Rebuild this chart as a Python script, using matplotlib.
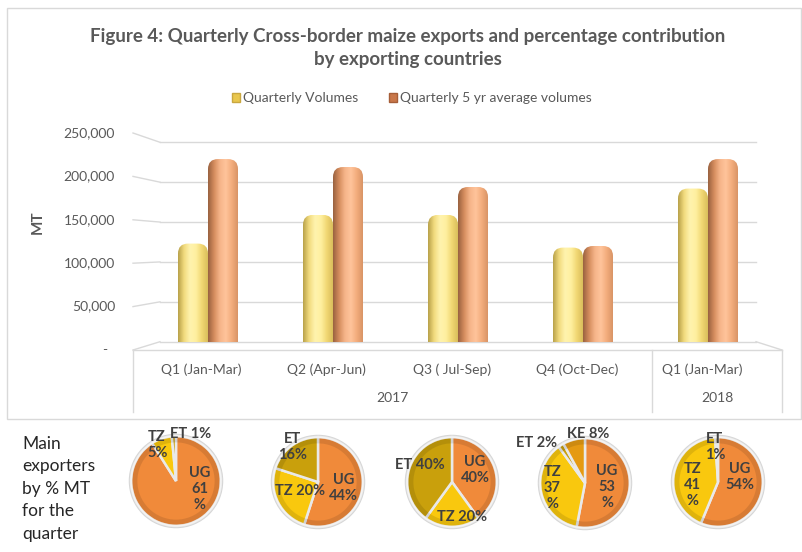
import matplotlib
matplotlib.use("Agg")
import matplotlib.pyplot as plt
import numpy as np
from matplotlib.colors import LinearSegmentedColormap
from matplotlib.patches import FancyBboxPatch, Patch, Rectangle, Circle

plt.rcParams['font.family'] = ['Lato', 'DejaVu Sans']

# data
quarters = ['Q1 (Jan-Mar)', 'Q2 (Apr-Jun)', 'Q3 ( Jul-Sep)', 'Q4 (Oct-Dec)', 'Q1 (Jan-Mar)']
years = ['2017', '2018']
year_span = [4, 1]
quarterly_volumes = [123000, 159000, 159000, 118000, 192000]
avg5yr_volumes = [229000, 219000, 194000, 120000, 229000]
yticks = [0, 50000, 100000, 150000, 200000, 250000]

pie_countries = [
    ['UG', 'TZ', 'ET'],
    ['UG', 'TZ', 'ET'],
    ['UG', 'TZ', 'ET'],
    ['UG', 'TZ', 'ET', 'KE'],
    ['UG', 'TZ', 'ET'],
]
pie_shares = [
    [61, 5, 1],
    [44, 20, 16],
    [40, 20, 40],
    [53, 37, 2, 8],
    [54, 41, 1],
]
pie_texts = [
    ['UG\n61\n%', 'TZ\n5%', 'ET 1%'],
    ['UG\n44%', 'TZ 20%', 'ET\n16%'],
    ['UG\n40%', 'TZ 20%', 'ET 40%'],
    ['UG\n53\n%', 'TZ\n37\n%', 'ET 2%', 'KE 8%'],
    ['UG\n54%', 'TZ\n41\n%', 'ET\n1%'],
]

# label offsets (units of pie radius)
pie_label_pos = [
    [(0.53, -0.18), (-0.42, 0.80), (0.32, 1.04)],
    [(0.56, -0.13), (-0.40, -0.20), (-0.56, 0.78)],
    [(0.51, 0.27), (0.22, -0.78), (-0.71, 0.38)],
    [(0.49, -0.09), (-0.73, -0.11), (-1.07, 0.89), (0.06, 1.09)],
    [(0.49, 0.11), (-0.56, -0.07), (-0.07, 0.78)],
]
pie_centers = [(176, 481), (318, 482), (452, 482), (585, 483), (718, 482)]
country_colors = {'UG': '#F08A3A', 'TZ': '#F9C80E', 'ET': '#C9A00C', 'KE': '#E59A12'}

W, H = 803, 552
fig = plt.figure(figsize=(W / 100, H / 100), dpi=100)
fig.patch.set_facecolor('white')

# chart border
fig.add_artist(Rectangle((7 / W, 1 - 419 / H), (801 - 7) / W, (419 - 8) / H,
                         transform=fig.transFigure, fill=False, ec='#D9D9D9', lw=1))

# main axes: x 133..782 px, y back wall 0 at 341.7 px, 250k at 142.3 px
x0, x1 = -0.6, 4.592
ax = fig.add_axes([133 / W, 1 - 341.7 / H, 649 / W, 199.4 / H])
ax.axis('off')

gc = '#D9D9D9'
wall_l, wall_r = -0.384, 4.384
for v in yticks:
    ax.plot([wall_l, wall_r], [v, v], color=gc, lw=1, clip_on=False, zorder=1)
    front = v * (217 / 199.4) - 10400
    ax.plot([x0, wall_l], [front, v], color=gc, lw=1, clip_on=False, zorder=1)
    lab = '{:,.0f}'.format(v) if v else '-  '
    ax.text(-0.0277, front, lab, transform=ax.get_yaxis_transform(), ha='right',
            va='center', fontsize=10, color='#595959')
ax.plot([wall_r, x1], [0, -10400], color=gc, lw=1, clip_on=False)

ax.text(38 / W, 1 - 222 / H, 'MT', transform=fig.transFigure, rotation=90,
        ha='center', va='center', fontsize=11, fontweight='bold', color='#595959')

# cylinder-like bars
bw = 0.24
x = np.arange(len(quarters))
cmap_y = LinearSegmentedColormap.from_list('y', ['#B9A24A', '#F2DB7E', '#FFF3AE', '#FFF0A0', '#F1D773', '#D9BE5C'])
cmap_o = LinearSegmentedColormap.from_list('o', ['#9A6240', '#D58D5E', '#F6B58A', '#FFC49B', '#F3AC7C', '#D99466'])
grad = np.linspace(0, 1, 64).reshape(1, -1)
aspect = (250000 / 199.4) / ((x1 - x0) / 649)

def cyl_bars(xs, vals, cmap, face):
    bars = ax.bar(xs, vals, bw, color=face, alpha=0)
    for b in bars:
        bx, by = b.get_x(), b.get_y()
        bwid, bh = b.get_width(), b.get_height()
        clip = FancyBboxPatch((bx, by - 20000), bwid, bh + 20000,
                              boxstyle='round,pad=0,rounding_size=0.08',
                              mutation_aspect=aspect, fc='none', ec='none',
                              transform=ax.transData)
        ax.add_patch(clip)
        im = ax.imshow(grad, cmap=cmap, aspect='auto', extent=(bx, bx + bwid, by, by + bh),
                       zorder=3, interpolation='bicubic')
        im.set_clip_path(clip)
    return bars

cyl_bars(x - bw / 2, quarterly_volumes, cmap_y, '#FFE699')
cyl_bars(x + bw / 2, avg5yr_volumes, cmap_o, '#F4B183')
ax.set_xlim(x0, x1)
ax.set_ylim(0, 250000)

# category table
tc = '#D9D9D9'
yf = lambda px: (341.7 - px) / 199.4
tr = ax.get_xaxis_transform()
split = year_span[0] - 0.5 + 0.055
ax.plot([x0, x1], [yf(350), yf(350)], transform=tr, color=tc, lw=1, clip_on=False)
for xs in [x0, split, x1]:
    ax.plot([xs, xs], [yf(350), yf(412)], transform=tr, color=tc, lw=1, clip_on=False)
for i, q in enumerate(quarters):
    ax.text(i - 0.05, yf(370), q, transform=tr, ha='center', va='center',
            fontsize=10, color='#595959')
ax.text((x0 + split) / 2, yf(398), years[0], transform=tr, ha='center', va='center',
        fontsize=10, color='#595959')
ax.text((split + x1) / 2, yf(398), years[1], transform=tr, ha='center', va='center',
        fontsize=10, color='#595959')

# title and legend
fig.text(408 / W, 1 - 48 / H,
         'Figure 4: Quarterly Cross-border maize exports and percentage contribution\nby exporting countries',
         ha='center', va='center', fontsize=13.5, fontweight='bold', color='#595959',
         linespacing=1.4)
handles = [Patch(fc='#E9C74E', ec='#C9A740'), Patch(fc='#C9774A', ec='#A65E38')]
fig.legend(handles, ['Quarterly Volumes', 'Quarterly 5 yr average volumes'],
           loc='center', bbox_to_anchor=(412 / W, 1 - 98 / H), ncol=2, frameon=False,
           fontsize=10, labelcolor='#595959', handlelength=0.6, handleheight=0.6,
           handletextpad=0.2, columnspacing=2.2)

# bottom pies
fig.text(22 / W, 1 - 489 / H, 'Main\nexporters\nby % MT\nfor the\nquarter', ha='left',
         va='center', fontsize=12.5, color='#262626', linespacing=1.5)

R = 45
for k, (cx, cy) in enumerate(pie_centers):
    pa = fig.add_axes([(cx - 60) / W, 1 - (cy + 60) / H, 120 / W, 120 / H])
    pa.set_aspect('equal')
    pa.axis('off')
    pa.add_patch(Circle((0, 0), 1.05, fc='#D6D6D6', ec='none', zorder=0))
    cols = [country_colors[c] for c in pie_countries[k]]
    wedges, _ = pa.pie(pie_shares[k], colors=cols, startangle=90, counterclock=False,
                       radius=1.0, wedgeprops=dict(edgecolor='#E9E9E9', linewidth=1.8))
    for w in wedges:
        w.set_zorder(2)
    pa.add_patch(Circle((0, 0), 0.92, fc='none', ec='#000000', lw=4, alpha=0.10, zorder=3))
    pa.add_patch(Circle((0, 0), 0.99, fc='none', ec='#FFFFFF', lw=1.5, alpha=0.5, zorder=3))
    for t, (dx, dy) in zip(pie_texts[k], pie_label_pos[k]):
        pa.text(dx, dy, t, ha='center', va='center', fontsize=10.5, fontweight='bold',
                color='#404040', linespacing=1.2, zorder=5)
    pa.set_xlim(-60 / R, 60 / R)
    pa.set_ylim(-60 / R, 60 / R)

fig.savefig('out.png', dpi=100, facecolor='white')
